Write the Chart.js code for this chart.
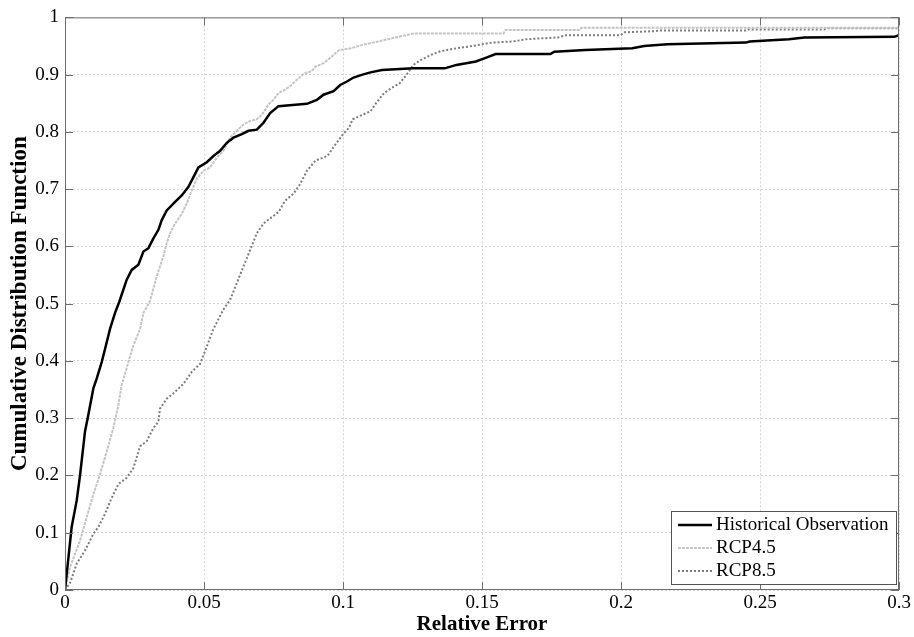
<!DOCTYPE html>
<html>
<head>
<meta charset="utf-8">
<script src="https://cdn.jsdelivr.net/npm/chart.js@4.4.1/dist/chart.umd.min.js"></script>
<style>
  html, body { margin: 0; padding: 0; background: #fff; }
  #wrap { width: 914px; height: 637px; }
</style>
</head>
<body>
<div id="wrap"><canvas id="cdf"></canvas></div>
<script>
// valores
const xTicks = [0, 0.05, 0.1, 0.15, 0.2, 0.25, 0.3];
const yTicks = [0, 0.1, 0.2, 0.3, 0.4, 0.5, 0.6, 0.7, 0.8, 0.9, 1];
const seriesNames = ['Historical Observation', 'RCP4.5', 'RCP8.5'];

const histX = [0, 0.0024, 0.0042, 0.0054, 0.0072, 0.0084, 0.0102, 0.0114, 0.0132, 0.0144, 0.0162, 0.018, 0.0195,
  0.0222, 0.024, 0.0264, 0.0282, 0.030, 0.0318, 0.0336, 0.0348, 0.0366, 0.0396, 0.042, 0.0444, 0.0462, 0.048,
  0.051, 0.0534, 0.0558, 0.0582, 0.0606, 0.0636, 0.066, 0.069, 0.0714, 0.0738, 0.0768, 0.0798, 0.087, 0.0906,
  0.093, 0.0966, 0.099, 0.1014, 0.1038, 0.107, 0.1099, 0.114, 0.1253, 0.1366, 0.1408, 0.1478, 0.1506, 0.1549,
  0.1746, 0.176, 0.1872, 0.2041, 0.2083, 0.2167, 0.2449, 0.2463, 0.2604, 0.266, 0.2983, 0.3];
const histY = [0, 0.11, 0.156, 0.20, 0.277, 0.306, 0.352, 0.369, 0.398, 0.421, 0.456, 0.484, 0.503,
  0.542, 0.559, 0.568, 0.591, 0.597, 0.614, 0.629, 0.646, 0.663, 0.678, 0.689, 0.704, 0.721, 0.738,
  0.747, 0.758, 0.767, 0.781, 0.790, 0.796, 0.802, 0.804, 0.816, 0.833, 0.845, 0.846, 0.849, 0.856,
  0.865, 0.871, 0.882, 0.888, 0.895, 0.900, 0.904, 0.908, 0.911, 0.911, 0.917, 0.923, 0.928, 0.936,
  0.936, 0.940, 0.943, 0.946, 0.950, 0.953, 0.956, 0.958, 0.962, 0.965, 0.966, 0.969];

const rcp45X = [0, 0.0018, 0.0054, 0.0078, 0.0102, 0.0126, 0.015, 0.0174, 0.0192, 0.0204, 0.0228, 0.0246, 0.027,
  0.0282, 0.0306, 0.033, 0.0354, 0.0366, 0.0378, 0.0396, 0.042, 0.0438, 0.0456, 0.0474, 0.0498, 0.0522, 0.0546,
  0.057, 0.0594, 0.0612, 0.0642, 0.0666, 0.069, 0.0708, 0.0732, 0.075, 0.0768, 0.0792, 0.081, 0.0834, 0.0859,
  0.0887, 0.0901, 0.093, 0.0958, 0.0986, 0.1028, 0.107, 0.1127, 0.1162, 0.1218, 0.1253, 0.1577, 0.1584,
  0.1851, 0.1858, 0.3];
const rcp45Y = [0, 0.040, 0.086, 0.127, 0.167, 0.202, 0.242, 0.283, 0.323, 0.358, 0.398, 0.427, 0.456,
  0.484, 0.505, 0.548, 0.583, 0.606, 0.623, 0.640, 0.657, 0.675, 0.698, 0.718, 0.732, 0.738, 0.755,
  0.767, 0.790, 0.799, 0.813, 0.819, 0.822, 0.830, 0.848, 0.856, 0.868, 0.874, 0.880, 0.891, 0.902,
  0.906, 0.914, 0.920, 0.931, 0.943, 0.946, 0.952, 0.958, 0.962, 0.968, 0.972, 0.972, 0.978,
  0.978, 0.982, 0.982];

const rcp85X = [0, 0.0018, 0.0042, 0.0072, 0.0102, 0.012, 0.0144, 0.0168, 0.0192, 0.0222, 0.0246, 0.027, 0.0294,
  0.0318, 0.0336, 0.0342, 0.0366, 0.0396, 0.0426, 0.0456, 0.0486, 0.0498, 0.0516, 0.0534, 0.0552, 0.057, 0.0594,
  0.0618, 0.0642, 0.0666, 0.069, 0.0714, 0.0738, 0.0768, 0.0792, 0.0822, 0.0846, 0.087, 0.0901, 0.0944, 0.0965,
  0.1, 0.1021, 0.1035, 0.107, 0.1099, 0.112, 0.1148, 0.1176, 0.1204, 0.1232, 0.1253, 0.1281, 0.1323, 0.1351,
  0.1408, 0.1465, 0.1535, 0.1612, 0.1661, 0.1774, 0.1802, 0.1999, 0.2013, 0.2125, 0.214, 0.2449, 0.2456,
  0.273, 0.2744, 0.3];
const rcp85Y = [0, 0.012, 0.046, 0.069, 0.098, 0.110, 0.133, 0.161, 0.185, 0.196, 0.213, 0.251, 0.260,
  0.283, 0.294, 0.317, 0.334, 0.346, 0.360, 0.381, 0.395, 0.410, 0.433, 0.456, 0.473, 0.490, 0.507,
  0.536, 0.565, 0.594, 0.623, 0.640, 0.649, 0.660, 0.680, 0.692, 0.709, 0.732, 0.750, 0.758, 0.773,
  0.796, 0.807, 0.822, 0.830, 0.836, 0.851, 0.868, 0.877, 0.885, 0.902, 0.917, 0.926, 0.936, 0.941,
  0.946, 0.950, 0.956, 0.958, 0.962, 0.965, 0.969, 0.969, 0.974, 0.976, 0.977, 0.977, 0.979,
  0.979, 0.981, 0.981];

const pontos = (xs, ys) => xs.map((x, i) => ({ x: x, y: ys[i] }));
const serif = "'Liberation Serif', 'Times New Roman', serif";

// moldura, ticks internos e legenda no estilo MATLAB
const moldura = {
  id: 'moldura',
  afterDraw(chart) {
    const { ctx, chartArea: a, scales } = chart;
    ctx.save();
    ctx.strokeStyle = '#6e6e6e';
    ctx.lineWidth = 1;
    ctx.setLineDash([]);
    ctx.strokeRect(a.left + 0.5, a.top + 0.5, a.right - a.left - 1, a.bottom - a.top - 1);
    ctx.beginPath();
    xTicks.forEach(v => {
      const px = Math.round(scales.x.getPixelForValue(v)) + 0.5;
      ctx.moveTo(px, a.bottom); ctx.lineTo(px, a.bottom - 8);
      ctx.moveTo(px, a.top); ctx.lineTo(px, a.top + 8);
    });
    yTicks.forEach(v => {
      const py = Math.round(scales.y.getPixelForValue(v)) + 0.5;
      ctx.moveTo(a.left, py); ctx.lineTo(a.left + 8, py);
      ctx.moveTo(a.right, py); ctx.lineTo(a.right - 8, py);
    });
    ctx.stroke();

    // legenda
    const bx = a.left + 606, by = a.bottom - 79, bw = 225, bh = 73;
    ctx.fillStyle = '#fff';
    ctx.fillRect(bx, by, bw, bh);
    ctx.strokeStyle = '#555';
    ctx.strokeRect(bx + 0.5, by + 0.5, bw, bh);
    ctx.font = '19px ' + serif;
    ctx.textBaseline = 'middle';
    chart.data.datasets.forEach((ds, i) => {
      const yy = by + 14 + i * 23;
      ctx.beginPath();
      ctx.strokeStyle = ds.borderColor;
      ctx.lineWidth = ds.borderWidth;
      ctx.setLineDash(ds.borderDash || []);
      ctx.moveTo(bx + 7, yy); ctx.lineTo(bx + 41, yy);
      ctx.stroke();
      ctx.fillStyle = '#000';
      ctx.fillText(ds.label, bx + 45, yy);
    });
    ctx.restore();
  }
};

new Chart(document.getElementById('cdf'), {
  type: 'line',
  data: {
    datasets: [
      { label: seriesNames[0], data: pontos(histX, histY), borderColor: '#000', borderWidth: 2.5 },
      { label: seriesNames[1], data: pontos(rcp45X, rcp45Y), borderColor: '#c4c4c4', borderWidth: 2, borderDash: [3, 1] },
      { label: seriesNames[2], data: pontos(rcp85X, rcp85Y), borderColor: '#7c7c7c', borderWidth: 2, borderDash: [2, 2] }
    ]
  },
  options: {
    responsive: true,
    maintainAspectRatio: false,
    animation: false,
    elements: { point: { radius: 0 }, line: { tension: 0 } },
    layout: { padding: { top: 12, right: 15, left: 0, bottom: 0 } },
    plugins: { legend: { display: false }, tooltip: { enabled: false } },
    scales: {
      x: {
        type: 'linear', min: 0, max: 0.3,
        afterBuildTicks: s => { s.ticks = xTicks.map(v => ({ value: v })); },
        afterFit: s => { s.height = 47; },
        ticks: { color: '#000', font: { family: serif, size: 19 }, padding: 2, maxRotation: 0,
          callback: v => String(v) },
        grid: { color: '#d4d4d4', drawTicks: false, lineWidth: 1 },
        border: { display: false, dash: [2, 2] },
        title: { display: true, text: 'Relative Error', color: '#000',
          font: { family: serif, size: 21, weight: 'bold' }, padding: 0 }
      },
      y: {
        type: 'linear', min: 0, max: 1,
        afterBuildTicks: s => { s.ticks = yTicks.map(v => ({ value: v })); },
        afterFit: s => { s.width = 65; },
        ticks: { color: '#000', font: { family: serif, size: 19 }, padding: 6,
          callback: v => String(v) },
        grid: { color: '#d4d4d4', drawTicks: false, lineWidth: 1 },
        border: { display: false, dash: [2, 2] },
        title: { display: true, text: 'Cumulative Distribution Function', color: '#000',
          font: { family: serif, size: 23, weight: 'bold' }, padding: { top: 6, bottom: 0 } }
      }
    }
  },
  plugins: [moldura]
});
</script>
</body>
</html>
